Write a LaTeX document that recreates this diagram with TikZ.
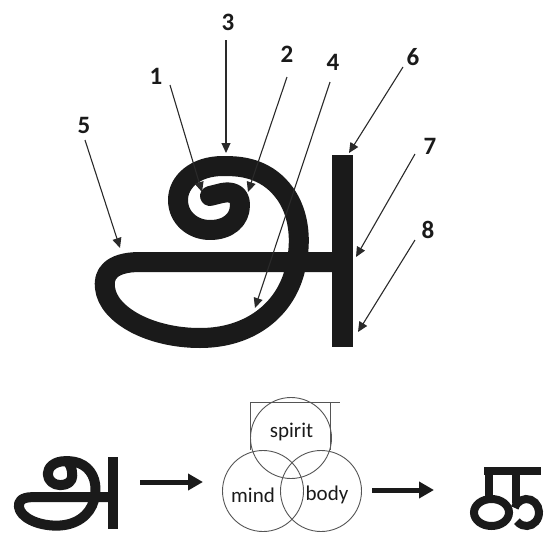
\documentclass[tikz,border=0pt]{standalone}
\usepackage{fontspec}
\setmainfont{Carlito}
\usetikzlibrary{arrows.meta}
\definecolor{ink}{HTML}{1A1A1A}
\definecolor{ptrcol}{HTML}{2A2A2A}
\definecolor{venncol}{HTML}{555555}
\newcommand\tamilAbase[3]{%
  \draw[ink, line width=#2, line cap=butt] (342.5,155) -- (342.5,347);
  \draw[ink, line width=#1, line cap=round, line join=round]
    (336,262) -- (140,262)
    .. controls (110,262) and (103,275) .. (105,288)
    .. controls (108,315) and (150,338) .. (200,338)
    .. controls (250,338) and (285,310) .. (295,270)
    .. controls (305,230) and (295,195) .. (268,177)
    .. controls (252,167) and (238,166) .. (223,166)
    .. controls (195,166) and (178,182) .. (178,200)
    .. controls (178,218) and (193,230) .. (210,230)
    .. controls (228,230) and (240,220) .. (240,205) #3;
}
\tikzset{
  num/.style={font=\fontsize{25}{25}\selectfont\bfseries, text=ink, inner sep=0pt},
  ptr/.style={draw=ptrcol, line width=1.1pt, -{Triangle[length=10pt,width=9pt]}},
  bigarrow/.style={draw=ink, line width=5pt, -{Triangle[length=15pt,width=16pt]}},
  venn/.style={draw=venncol, line width=0.9pt, circle, minimum size=81pt, inner sep=0pt},
  venntext/.style={font=\fontsize{21}{21}\selectfont, text=ink, inner sep=0pt},
  frameline/.style={draw=venncol, line width=0.9pt},
}
\begin{document}
\begin{tikzpicture}[x=1pt,y=-1pt]
\useasboundingbox (0,0) rectangle (549,533);
% main glyph
\tamilAbase{20pt}{21pt}{.. controls (240,194) and (232,191) .. (222,193) -- (210,196)}
% labels
\node[num] (n1) at (156,76) {1};
\node[num] (n2) at (287,54) {2};
\node[num] (n3) at (228,22) {3};
\node[num] (n4) at (333,62) {4};
\node[num] (n5) at (84,125) {5};
\node[num] (n6) at (413,57) {6};
\node[num] (n7) at (430,146) {7};
\node[num] (n8) at (428,230) {8};
\coordinate (s1) at (170,85);  \coordinate (t1) at (202,192);
\coordinate (s2) at (287,77);  \coordinate (t2) at (248,192);
\coordinate (s3) at (226,40);  \coordinate (t3) at (226,153);
\coordinate (s4) at (330,82);  \coordinate (t4) at (255,308);
\coordinate (s5) at (85,140);  \coordinate (t5) at (120,248);
\coordinate (s6) at (403,67);  \coordinate (t6) at (349,153);
\coordinate (s7) at (415,154); \coordinate (t7) at (356,257);
\coordinate (s8) at (415,240); \coordinate (t8) at (358,332);
\foreach \i in {1,...,8} { \draw[ptr] (s\i) -- (t\i); }
% small glyph
\begin{scope}[shift={(15,457)}, xscale=0.395, yscale=0.375, shift={(-95,-155)}]
\tamilAbase{10pt}{10pt}{.. controls (240,186) and (234,168) .. (223,166)}
\end{scope}
% arrows
\coordinate (a1s) at (140,482); \coordinate (a1e) at (203,482);
\draw[bigarrow] (a1s) -- (a1e);
\coordinate (a2s) at (372,490); \coordinate (a2e) at (434,490);
\draw[bigarrow] (a2s) -- (a2e);
% venn
\coordinate (fa) at (250,450);
\coordinate (fb) at (250,402);
\coordinate (fc) at (340,402);
\coordinate (fd) at (330,402);
\coordinate (fe) at (330,450);
\draw[frameline] (fa) -- (fb) -- (fc);
\draw[frameline] (fd) -- (fe);
\node[venn] (spirit) at (291,438) {};
\node[venn] (mind) at (263,491) {};
\node[venn] (body) at (321,491) {};
\node[venntext] (tspirit) at (291.5,432) {spirit};
\node[venntext] (tmind) at (253,495) {mind};
\node[venntext] (tbody) at (327,495) {body};
% ka glyph
\draw[ink, line width=8pt] (484,471) -- (541,471);
\draw[ink, line width=8pt] (489,467) -- (489,503);
\draw[ink, line width=8pt] (516,471) -- (516,503);
\draw[ink, line width=8pt] (491.5,512.5) ellipse [x radius=17.5, y radius=13.5];
\draw[ink, line width=8pt] (526.5,512.5) ++(200:12.5 and 13.5) arc [start angle=200, end angle=500, x radius=12.5, y radius=13.5];
\end{tikzpicture}
\end{document}
